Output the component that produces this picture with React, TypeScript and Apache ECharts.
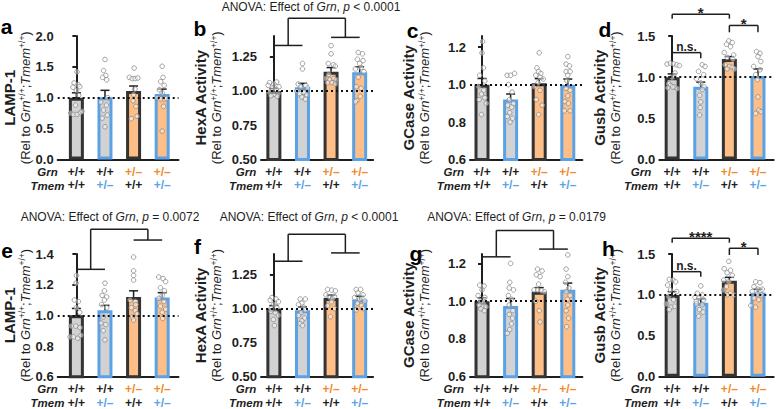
import React, { useEffect, useRef } from 'react';
import * as echarts from 'echarts';

const FONT = '"Liberation Sans", Arial, Helvetica, sans-serif';

// genotype rows (x-axis labels)
const grnRow = ['+/+', '+/+', '+/–', '+/–'];
const tmemRow = ['+/+', '+/–', '+/+', '+/–'];

// ---- panel a: LAMP-1 (top row)
const meansA = [1.0, 1.01, 1.11, 1.06];
const semsA = [0.08, 0.11, 0.08, 0.08];
const ptsA = [
  [[0.02, 1.42], [-0.08, 1.24], [0.06, 1.21], [-0.12, 1.17], [0.12, 1.18], [0.0, 1.12], [0.08, 1.04], [-0.03, 0.88], [-0.2, 0.75], [-0.1, 0.73], [0.02, 0.73], [0.14, 0.76], [0.2, 0.78]],
  [[0.0, 1.62], [-0.05, 1.44], [0.03, 1.36], [-0.08, 1.33], [0.06, 1.29], [0.1, 1.0], [-0.15, 0.93], [0.05, 0.88], [-0.05, 0.8], [0.08, 0.72], [-0.1, 0.67], [0.0, 0.53]],
  [[0.02, 1.48], [-0.15, 1.33], [-0.05, 1.31], [0.05, 1.31], [0.15, 1.32], [0.05, 1.14], [0.0, 1.05], [-0.02, 0.95], [0.08, 0.86], [0.12, 0.7], [-0.08, 0.66]],
  [[0.0, 1.51], [0.03, 1.33], [-0.05, 1.26], [0.07, 1.2], [-0.1, 1.13], [0.0, 1.08], [-0.18, 1.0], [-0.05, 0.98], [0.08, 0.98], [0.15, 0.99], [0.05, 0.86], [0.0, 0.46]],
];

// ---- panel b: HexA (top row)
const meansB = [1.0, 1.027, 1.14, 1.135];
const semsB = [0.017, 0.028, 0.03, 0.04];
const ptsB = [
  [[-0.15, 1.06], [0.1, 1.065], [0.0, 1.05], [-0.2, 1.04], [0.18, 1.03], [-0.05, 1.02], [0.08, 1.01], [-0.15, 0.99], [0.15, 0.98], [0.0, 0.975], [-0.1, 0.965], [0.12, 0.96]],
  [[0.0, 1.2], [0.0, 1.16], [-0.15, 1.05], [0.12, 1.04], [-0.05, 1.03], [0.18, 1.02], [-0.2, 1.0], [0.05, 0.99], [-0.1, 0.98], [0.15, 0.97], [-0.02, 0.955], [0.1, 0.94]],
  [[0.0, 1.33], [0.0, 1.27], [-0.1, 1.2], [0.08, 1.19], [0.15, 1.18], [-0.08, 1.12], [-0.18, 1.09], [-0.05, 1.08], [0.1, 1.09], [0.18, 1.08], [-0.12, 1.06], [0.03, 1.06], [0.15, 1.05]],
  [[-0.05, 1.28], [0.1, 1.27], [-0.08, 1.23], [0.12, 1.22], [0.0, 1.2], [0.05, 1.17], [-0.15, 1.16], [0.15, 1.14], [-0.05, 1.1], [-0.12, 1.03], [0.05, 1.02], [0.02, 0.96], [-0.1, 0.93], [-0.15, 0.92]],
];

// ---- panel c: GCase (top row)
const meansC = [1.0, 0.92, 1.007, 1.0];
const semsC = [0.033, 0.03, 0.025, 0.03];
const ptsC = [
  [[0.02, 1.23], [0.0, 1.17], [0.05, 1.09], [-0.08, 1.05], [0.1, 1.02], [-0.12, 0.99], [0.06, 0.97], [-0.02, 0.95], [0.1, 0.93], [-0.1, 0.92], [0.15, 0.9], [-0.02, 0.84]],
  [[-0.12, 1.05], [0.0, 1.05], [0.14, 1.06], [-0.08, 1.0], [0.05, 0.96], [-0.04, 0.92], [0.1, 0.9], [-0.1, 0.89], [0.04, 0.88], [-0.03, 0.85], [-0.12, 0.83], [0.07, 0.82], [-0.02, 0.8]],
  [[0.0, 1.17], [-0.08, 1.09], [-0.02, 1.07], [0.06, 1.06], [-0.12, 1.05], [0.03, 1.04], [0.14, 1.03], [-0.04, 1.01], [-0.18, 0.99], [0.03, 0.97], [-0.1, 0.92], [0.1, 0.89], [-0.02, 0.84]],
  [[0.0, 1.15], [-0.06, 1.11], [0.06, 1.1], [-0.06, 1.07], [0.08, 1.07], [0.0, 1.05], [-0.03, 1.02], [-0.06, 0.98], [0.08, 0.97], [0.0, 0.94], [-0.1, 0.91], [0.02, 0.9], [-0.12, 0.86], [0.08, 0.86]],
];

// ---- panel d: Gusb (top row)
const meansD = [1.0, 0.885, 1.22, 1.015];
const semsD = [0.04, 0.055, 0.03, 0.085];
const ptsD = [
  [[-0.18, 1.16], [-0.06, 1.17], [0.05, 1.16], [0.16, 1.15], [0.25, 1.14], [0.1, 1.05], [0.0, 1.0], [-0.12, 0.92], [-0.05, 0.9], [0.08, 0.88], [-0.15, 0.87], [0.18, 0.86], [0.02, 0.88]],
  [[0.05, 1.15], [0.15, 1.13], [-0.08, 1.07], [0.1, 1.03], [-0.15, 0.98], [0.0, 0.93], [0.12, 0.88], [0.05, 0.85], [-0.04, 0.78], [0.0, 0.7], [-0.02, 0.63], [-0.04, 0.54]],
  [[-0.02, 1.44], [0.1, 1.42], [-0.1, 1.4], [0.04, 1.37], [-0.18, 1.3], [0.15, 1.27], [-0.08, 1.24], [0.12, 1.22], [-0.15, 1.15], [0.0, 1.13], [0.1, 1.12], [-0.08, 1.1], [0.18, 1.1]],
  [[-0.05, 1.31], [0.07, 1.29], [0.0, 1.25], [0.1, 1.19], [-0.15, 1.13], [0.07, 1.09], [-0.08, 1.03], [-0.02, 0.97], [0.0, 0.76], [0.03, 0.6], [-0.08, 0.56], [0.1, 0.58]],
];

// ---- panel e: LAMP-1 (bottom row)
const meansE = [1.0, 1.033, 1.12, 1.117];
const semsE = [0.045, 0.032, 0.04, 0.031];
const ptsE = [
  [[0.0, 1.26], [-0.01, 1.21], [-0.07, 1.1], [0.07, 1.09], [0.0, 1.05], [0.12, 1.02], [-0.18, 0.93], [-0.02, 0.93], [0.13, 0.92], [-0.22, 0.86], [-0.1, 0.86], [0.05, 0.85], [0.16, 0.87]],
  [[0.0, 1.21], [-0.02, 1.16], [-0.1, 1.13], [0.06, 1.12], [-0.02, 1.1], [-0.12, 1.07], [0.06, 1.05], [-0.06, 0.99], [-0.14, 0.95], [0.03, 0.94], [-0.06, 0.9], [0.0, 0.84]],
  [[0.0, 1.38], [0.0, 1.29], [0.0, 1.26], [0.0, 1.23], [-0.12, 1.1], [0.06, 1.09], [0.08, 1.07], [-0.08, 1.05], [0.06, 1.03], [0.12, 1.01], [-0.04, 0.99], [0.0, 0.97]],
  [[-0.12, 1.25], [0.03, 1.24], [0.12, 1.22], [-0.06, 1.18], [0.08, 1.16], [0.0, 1.13], [-0.12, 1.11], [0.06, 1.09], [-0.06, 1.06], [0.12, 1.04], [0.0, 1.02], [0.02, 0.98]],
];

// ---- panel f: HexA (bottom row)
const meansF = [1.0, 0.988, 1.078, 1.066];
const semsF = [0.022, 0.024, 0.02, 0.024];
const ptsF = [
  [[-0.07, 1.08], [0.08, 1.07], [-0.13, 1.06], [0.16, 1.05], [0.0, 1.03], [0.1, 1.01], [-0.1, 1.0], [-0.1, 0.98], [0.05, 0.97], [0.16, 0.95], [-0.02, 0.92], [0.02, 0.875]],
  [[-0.08, 1.07], [0.1, 1.07], [-0.02, 1.04], [-0.14, 1.03], [0.04, 1.01], [0.1, 0.99], [-0.05, 0.97], [-0.14, 0.95], [0.07, 0.93], [-0.02, 0.91], [-0.08, 0.89], [0.0, 0.875]],
  [[-0.12, 1.14], [0.02, 1.135], [0.15, 1.13], [-0.18, 1.1], [0.12, 1.09], [-0.03, 1.08], [0.05, 1.07], [0.02, 1.05], [-0.12, 1.02], [0.12, 1.0], [-0.02, 0.94]],
  [[-0.12, 1.14], [0.03, 1.14], [-0.06, 1.115], [0.12, 1.1], [-0.18, 1.08], [0.0, 1.07], [0.18, 1.055], [-0.08, 1.04], [0.06, 1.02], [0.12, 1.0], [-0.12, 0.99]],
];

// ---- panel g: GCase (bottom row)
const meansG = [1.0, 0.974, 1.05, 1.061];
const semsG = [0.018, 0.04, 0.022, 0.035];
const ptsG = [
  [[-0.08, 1.085], [0.07, 1.08], [0.0, 1.06], [-0.14, 1.03], [0.1, 1.02], [-0.05, 1.0], [0.05, 0.99], [-0.1, 0.98], [0.02, 0.97], [0.14, 0.97], [-0.04, 0.96], [0.08, 0.95]],
  [[0.0, 1.2], [-0.03, 1.1], [-0.05, 1.07], [0.1, 1.06], [-0.08, 1.03], [0.03, 1.01], [-0.05, 0.98], [0.08, 0.95], [-0.05, 0.93], [0.07, 0.91], [0.03, 0.88], [-0.03, 0.85], [-0.12, 0.83]],
  [[-0.06, 1.17], [0.1, 1.16], [-0.1, 1.14], [0.03, 1.13], [-0.02, 1.09], [-0.18, 1.06], [-0.05, 1.06], [0.08, 1.055], [0.18, 1.05], [-0.12, 1.0], [0.0, 0.95], [0.03, 0.89]],
  [[0.0, 1.245], [-0.06, 1.17], [0.0, 1.13], [-0.08, 1.1], [0.04, 1.07], [-0.06, 1.05], [0.08, 1.03], [-0.02, 1.01], [0.0, 0.98], [-0.06, 0.95], [0.03, 0.91], [-0.04, 0.865]],
];

// ---- panel h: Gusb (bottom row)
const meansH = [1.0, 0.905, 1.174, 1.03];
const semsH = [0.04, 0.045, 0.041, 0.04];
const ptsH = [
  [[-0.1, 1.19], [0.03, 1.18], [0.12, 1.16], [-0.16, 1.12], [-0.06, 1.06], [0.16, 1.04], [-0.12, 0.98], [0.05, 0.94], [-0.2, 0.89], [0.08, 0.86], [-0.04, 0.85], [-0.1, 0.82]],
  [[0.0, 1.11], [-0.12, 1.02], [0.05, 1.0], [-0.2, 0.97], [-0.07, 0.96], [0.1, 0.94], [-0.16, 0.92], [-0.15, 0.89], [0.05, 0.88], [-0.04, 0.82], [0.08, 0.79], [-0.07, 0.74]],
  [[-0.02, 1.41], [-0.18, 1.32], [0.04, 1.3], [-0.08, 1.27], [0.1, 1.24], [-0.2, 1.18], [-0.02, 1.16], [-0.1, 1.1], [-0.2, 1.06], [0.04, 1.02], [-0.08, 1.0], [0.15, 1.0]],
  [[-0.08, 1.16], [0.07, 1.15], [-0.14, 1.1], [0.0, 1.07], [0.15, 1.07], [-0.2, 1.04], [-0.02, 1.01], [0.12, 1.0], [-0.14, 0.96], [0.03, 0.94], [-0.25, 0.87], [-0.08, 0.85]],
];

// tick values
const ticks0to2 = [0, 0.5, 1, 1.5, 2];
const ticks0to15 = [0, 0.5, 1, 1.5];
const ticksHex = [0.5, 0.75, 1, 1.25];
const ticksGC = [0.6, 0.8, 1.0, 1.2];
const ticksLampE = [0.6, 0.8, 1.0, 1.2, 1.4];

// annotations (data units)
const anovaB = { yL: 1.331, yR: 1.39, yT: 1.53 };
const anovaE = { yL: 1.30, yR: 1.491, yT: 1.561 };
const anovaF = { yL: 1.347, yR: 1.408, yT: 1.544 };
const anovaG = { yL: 1.235, yR: 1.276, yT: 1.375 };
const sigD = [
  { a: 0, b: 2, y: 1.763, tick: 1.71, label: '*' },
  { a: 2, b: 3, y: 1.628, tick: 1.545, label: '*' },
  { a: 0, b: 1, y: 1.298, tick: 1.23, label: 'n.s.' },
];
const sigH = [
  { a: 0, b: 2, y: 1.692, tick: 1.638, label: '****' },
  { a: 2, b: 3, y: 1.57, tick: 1.488, label: '*' },
  { a: 0, b: 1, y: 1.284, tick: 1.222, label: 'n.s.' },
];

const barFill = ['#d2d2d2', '#d2d2d2', '#fdbe87', '#fdbe87'];
const barBorder = ['#333333', '#5ba1e6', '#333333', '#5ba1e6'];
const ORANGE = '#f08a2c';
const BLUE = '#5aa3e8';
const INK = '#1e1e1e';

const SPACING = 28.6;

type Panel = {
  letter: string; title: string; means: number[]; sems: number[]; pts: number[][][];
  yMin: number; yMax: number; ticks: number[]; dec: number; row: number;
  left: number; xMin: number; xMax: number; nameGap: number; hdrX: number;
  lx: number; ly: number; anova?: { yL: number; yR: number; yT: number } | null;
  sig?: { a: number; b: number; y: number; tick: number; label: string }[] | null;
};

const panels: Panel[] = [
  { letter: 'a', title: 'LAMP-1', means: meansA, sems: semsA, pts: ptsA, yMin: 0, yMax: 2, ticks: ticks0to2, dec: 1, row: 0, left: 57.7, xMin: -0.653, xMax: 3.57, nameGap: 24, hdrX: 47.5, lx: 6.5, ly: 26.5 },
  { letter: 'b', title: 'HexA Activity', means: meansB, sems: semsB, pts: ptsB, yMin: 0.5, yMax: 1.4, ticks: ticksHex, dec: 2, row: 0, left: 261, xMin: -0.45, xMax: 3.47, nameGap: 37, hdrX: 246, lx: 200, ly: 28, anova: anovaB },
  { letter: 'c', title: 'GCase Activity', means: meansC, sems: semsC, pts: ptsC, yMin: 0.6, yMax: 1.26, ticks: ticksGC, dec: 1, row: 0, left: 470, xMin: -0.42, xMax: 3.51, nameGap: 38, hdrX: 453.7, lx: 412.5, ly: 30 },
  { letter: 'd', title: 'Gusb Activity', means: meansD, sems: semsD, pts: ptsD, yMin: 0, yMax: 1.5, ticks: ticks0to15, dec: 1, row: 0, left: 659.3, xMin: -0.45, xMax: 3.55, nameGap: 36, hdrX: 641, lx: 605, ly: 29.5, sig: sigD },
  { letter: 'e', title: 'LAMP-1', means: meansE, sems: semsE, pts: ptsE, yMin: 0.6, yMax: 1.4, ticks: ticksLampE, dec: 1, row: 1, left: 57.7, xMin: -0.653, xMax: 3.57, nameGap: 24, hdrX: 47.5, lx: 7, ly: 250, anova: anovaE },
  { letter: 'f', title: 'HexA Activity', means: meansF, sems: semsF, pts: ptsF, yMin: 0.5, yMax: 1.4, ticks: ticksHex, dec: 2, row: 1, left: 261, xMin: -0.45, xMax: 3.47, nameGap: 37, hdrX: 246, lx: 197.5, ly: 246, anova: anovaF },
  { letter: 'g', title: 'GCase Activity', means: meansG, sems: semsG, pts: ptsG, yMin: 0.6, yMax: 1.25, ticks: ticksGC, dec: 1, row: 1, left: 470, xMin: -0.42, xMax: 3.51, nameGap: 38, hdrX: 453.7, lx: 416, ly: 253, anova: anovaG },
  { letter: 'h', title: 'Gusb Activity', means: meansH, sems: semsH, pts: ptsH, yMin: 0, yMax: 1.5, ticks: ticks0to15, dec: 1, row: 1, left: 659.3, xMin: -0.45, xMax: 3.55, nameGap: 36, hdrX: 641, lx: 608.5, ly: 248, sig: sigH },
];

const anovaTitles = [
  { x: 311, y: 7, p: '< 0.0001' },
  { x: 110, y: 217, p: '= 0.0072' },
  { x: 309, y: 217, p: '< 0.0001' },
  { x: 516.5, y: 217, p: '= 0.0179' },
];

const ROWS = [
  { top: 36, height: 123.5 },
  { top: 254, height: 122.7 },
];

function buildOption(): any {
  const grid: any[] = [];
  const xAxis: any[] = [];
  const yAxis: any[] = [];
  const series: any[] = [];
  const graphic: any[] = [];

  panels.forEach((p, k) => {
    const row = ROWS[p.row];
    const width = (p.xMax - p.xMin) * SPACING;
    grid.push({ left: p.left, top: row.top, width, height: row.height });

    xAxis.push({
      type: 'value', gridIndex: k, min: p.xMin, max: p.xMax,
      axisLine: { show: true, onZero: false, lineStyle: { color: INK, width: 2 } },
      axisTick: { show: false }, splitLine: { show: false },
      axisLabel: {
        customValues: [0, 1, 2, 3], margin: 5.5, showMinLabel: true, showMaxLabel: true,
        formatter: (v: number) => {
          const i = Math.round(v);
          const g = grnRow[i];
          const t = tmemRow[i];
          return `{${g === '+/+' ? 'k' : 'o'}|${g}}\n{${t === '+/+' ? 'k' : 'b'}|${t}}`;
        },
        rich: {
          k: { color: INK, fontSize: 12, fontWeight: 'bold', fontFamily: FONT, lineHeight: 13.6 },
          o: { color: ORANGE, fontSize: 12, fontWeight: 'bold', fontFamily: FONT, lineHeight: 13.6 },
          b: { color: BLUE, fontSize: 12, fontWeight: 'bold', fontFamily: FONT, lineHeight: 13.6 },
        },
      },
    });

    yAxis.push({
      type: 'value', gridIndex: k, min: p.yMin, max: p.yMax,
      axisLine: { show: true, lineStyle: { color: INK, width: 2 } },
      axisTick: { show: true, length: 4, customValues: p.ticks, lineStyle: { color: INK, width: 2 } },
      axisLabel: {
        customValues: p.ticks, formatter: (v: number) => v.toFixed(p.dec),
        fontSize: 13, fontWeight: 'bold', color: INK, fontFamily: FONT, margin: 4,
      },
      splitLine: { show: false },
      name: `{t|${p.title}}\n{s|(Rel to }{i|Grn}{u|+/+}{s|;}{i|Tmem}{u|+/+}{s|)}`,
      nameLocation: 'middle', nameRotate: 90, nameGap: p.nameGap,
      nameTextStyle: {
        rich: {
          t: { fontSize: 15, fontWeight: 'bold', fontFamily: FONT, color: INK, lineHeight: 17 },
          s: { fontSize: 13, fontFamily: FONT, color: INK, lineHeight: 15 },
          i: { fontSize: 13, fontStyle: 'italic', fontFamily: FONT, color: INK, lineHeight: 15 },
          u: { fontSize: 8.5, fontFamily: FONT, color: INK, lineHeight: 8, verticalAlign: 'top' },
        },
      },
    });

    series.push({
      type: 'bar', xAxisIndex: k, yAxisIndex: k, barWidth: 15, z: 2,
      data: p.means.map((m, i) => ({
        value: [i, m],
        itemStyle: { color: barFill[i], borderColor: barBorder[i], borderWidth: 3 },
      })),
    });

    series.push({
      type: 'custom', xAxisIndex: k, yAxisIndex: k, z: 3, clip: false,
      data: p.means.map((m, i) => [i, m, m + p.sems[i]]),
      encode: { x: 0, y: [1, 2] },
      renderItem: (params: any, api: any) => {
        const x = api.value(0);
        const lo = api.coord([x, api.value(1)]);
        const hi = api.coord([x, api.value(2)]);
        const st = { stroke: INK, lineWidth: 1.5 };
        return {
          type: 'group',
          children: [
            { type: 'line', shape: { x1: lo[0], y1: lo[1], x2: hi[0], y2: hi[1] }, style: st },
            { type: 'line', shape: { x1: hi[0] - 4.5, y1: hi[1], x2: hi[0] + 4.5, y2: hi[1] }, style: st },
          ],
        };
      },
    });

    series.push({
      type: 'scatter', xAxisIndex: k, yAxisIndex: k, z: 4, symbol: 'circle', symbolSize: 4.6,
      itemStyle: { color: 'rgba(255,255,255,0.6)', borderColor: '#8a8a8a', borderWidth: 1 },
      data: p.pts.flatMap((grp, i) => grp.map(([dx, y]) => [i + dx, y])),
      markLine: {
        silent: true, symbol: ['none', 'none'], label: { show: false },
        lineStyle: { color: '#111', type: [2, 3], width: 2 },
        data: [{ yAxis: 1 }],
      },
    });

    if (p.anova) {
      const an = p.anova;
      series.push({
        type: 'custom', xAxisIndex: k, yAxisIndex: k, z: 5, clip: false, silent: true,
        data: [[0.5, an.yT]],
        renderItem: (params: any, api: any) => {
          const c = (x: number, y: number) => api.coord([x, y]);
          const segs = [
            [0, an.yL, 1, an.yL], [0.5, an.yL, 0.5, an.yT], [0.5, an.yT, 2.5, an.yT],
            [2.5, an.yT, 2.5, an.yR], [2, an.yR, 3, an.yR],
          ];
          return {
            type: 'group',
            children: segs.map((s) => {
              const a = c(s[0], s[1]);
              const b = c(s[2], s[3]);
              return { type: 'line', shape: { x1: a[0], y1: a[1], x2: b[0], y2: b[1] }, style: { stroke: INK, lineWidth: 1.5 } };
            }),
          };
        },
      });
    }

    if (p.sig) {
      const sig = p.sig;
      series.push({
        type: 'custom', xAxisIndex: k, yAxisIndex: k, z: 5, clip: false, silent: true,
        data: sig.map((s) => [(s.a + s.b) / 2, s.y]),
        renderItem: (params: any, api: any) => {
          const s = sig[params.dataIndex];
          const pa = api.coord([s.a, s.y]);
          const pb = api.coord([s.b, s.y]);
          const pt = api.coord([s.a, s.tick]);
          const st = { stroke: INK, lineWidth: 1.5 };
          const isStar = s.label !== 'n.s.';
          return {
            type: 'group',
            children: [
              { type: 'line', shape: { x1: pa[0], y1: pt[1], x2: pa[0], y2: pa[1] }, style: st },
              { type: 'line', shape: { x1: pa[0], y1: pa[1], x2: pb[0], y2: pb[1] }, style: st },
              { type: 'line', shape: { x1: pb[0], y1: pa[1], x2: pb[0], y2: pt[1] }, style: st },
              {
                type: 'text', x: (pa[0] + pb[0]) / 2, y: pa[1] - (isStar ? 2 : 6),
                style: {
                  text: s.label, fill: INK, fontFamily: FONT, fontWeight: 'bold',
                  fontSize: isStar ? 15 : 12, align: 'center', verticalAlign: 'middle',
                  textAlign: 'center', textVerticalAlign: 'middle',
                },
              },
            ],
          };
        },
      });
    }

    // panel letter
    graphic.push({
      type: 'text', x: p.lx, y: p.ly, silent: true,
      style: {
        text: p.letter, fill: '#000', fontFamily: FONT, fontWeight: 'bold', fontSize: 21,
        align: 'center', verticalAlign: 'middle', textAlign: 'center', textVerticalAlign: 'middle',
      },
    });
    // row headers
    const bottom = row.top + row.height;
    [['Grn', 12.4], ['Tmem', 26]].forEach(([txt, dy]) => {
      graphic.push({
        type: 'text', x: p.hdrX, y: bottom + (dy as number), silent: true,
        style: {
          text: txt as string, fill: INK, fontFamily: FONT, fontWeight: 'bold', fontStyle: 'italic', fontSize: 11.5,
          align: 'center', verticalAlign: 'middle', textAlign: 'center', textVerticalAlign: 'middle',
        },
      });
    });
  });

  anovaTitles.forEach((t) => {
    graphic.push({
      type: 'text', x: t.x, y: t.y, silent: true,
      style: {
        text: `ANOVA: Effect of {i|Grn}, {i|p} ${t.p}`,
        fill: INK, fontFamily: FONT, fontSize: 12,
        align: 'center', verticalAlign: 'middle', textAlign: 'center', textVerticalAlign: 'middle',
        rich: { i: { fontStyle: 'italic', fontFamily: FONT, fontSize: 12, fill: INK } },
      },
    });
  });

  return {
    animation: false,
    backgroundColor: '#ffffff',
    textStyle: { fontFamily: FONT },
    grid, xAxis, yAxis, series, graphic,
  };
}

export default function App() {
  const ref = useRef<HTMLDivElement>(null);
  useEffect(() => {
    if (!ref.current) return;
    const chart = echarts.init(ref.current, undefined, { renderer: 'svg' });
    chart.setOption(buildOption());
    return () => chart.dispose();
  }, []);
  return (
    <div
      ref={ref}
      style={{ position: 'fixed', left: 0, top: 0, width: 778, height: 409, background: '#fff' }}
    />
  );
}
